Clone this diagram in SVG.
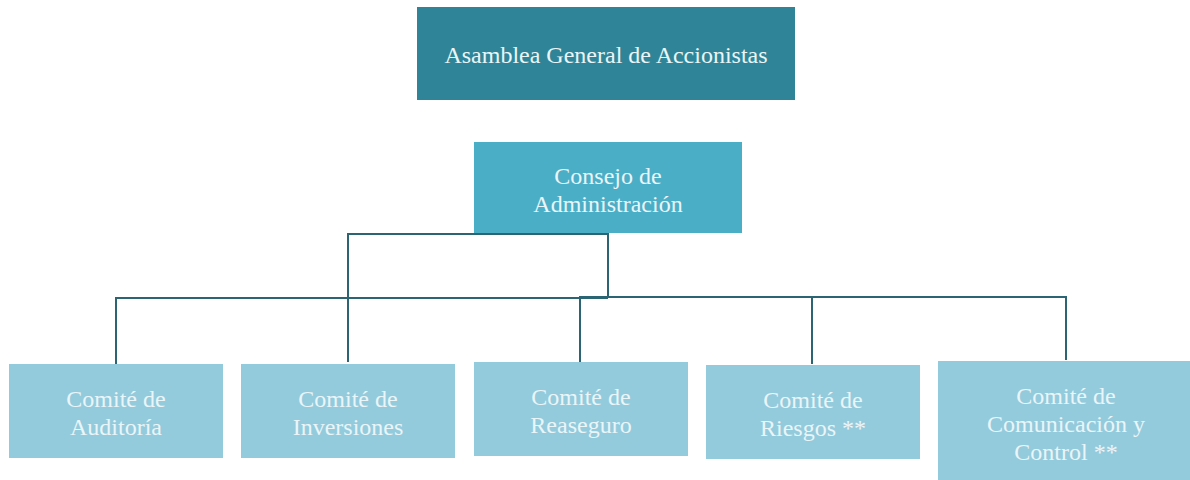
<svg xmlns="http://www.w3.org/2000/svg" width="1190" height="480" viewBox="0 0 1190 480" font-family="Liberation Serif, Times New Roman, DejaVu Serif, serif">
<style>
text{font-family:"Liberation Serif","Times New Roman","DejaVu Serif",serif}
.t{font-size:24px;fill:#EAF5F8;text-anchor:middle}
.ln{stroke:#2B6472;stroke-width:2;fill:none}
.top{fill:#2F8597}
.mid{fill:#4BAEC7}
.bot{fill:#93CBDC}
</style>
<rect width="1190" height="480" fill="#ffffff"/>
<g id="connectors">
<path class="ln" d="M348,362 V234 H608 V298"/>
<path class="ln" d="M116,365 V298 H608"/>
<path class="ln" d="M580,362 V297 H1066 V360"/>
<path class="ln" d="M580,297 H812 V364" stroke-width="3"/>
</g>
<g id="asamblea">
<rect class="top" x="417" y="7" width="378" height="93"/>
<text class="t" x="606" y="63">Asamblea General de Accionistas</text>
</g>
<g id="consejo">
<rect class="mid" x="474" y="142" width="268" height="91"/>
<text class="t" x="608" y="184">Consejo de</text>
<text class="t" x="608" y="212">Administración</text>
</g>
<g id="auditoria">
<rect class="bot" x="9" y="364" width="214" height="94"/>
<text class="t" x="116" y="407">Comité de</text>
<text class="t" x="116" y="435">Auditoría</text>
</g>
<g id="inversiones">
<rect class="bot" x="241" y="364" width="214" height="94"/>
<text class="t" x="348" y="407">Comité de</text>
<text class="t" x="348" y="435">Inversiones</text>
</g>
<g id="reaseguro">
<rect class="bot" x="474" y="362" width="214" height="94"/>
<text class="t" x="581" y="405">Comité de</text>
<text class="t" x="581" y="433">Reaseguro</text>
</g>
<g id="riesgos">
<rect class="bot" x="706" y="365" width="214" height="94"/>
<text class="t" x="813" y="408">Comité de</text>
<text class="t" x="813" y="436">Riesgos **</text>
</g>
<g id="comunicacion">
<rect class="bot" x="938" y="361" width="252" height="119"/>
<text class="t" x="1066" y="404">Comité de</text>
<text class="t" x="1066" y="432">Comunicación y</text>
<text class="t" x="1066" y="460">Control **</text>
</g>
</svg>
